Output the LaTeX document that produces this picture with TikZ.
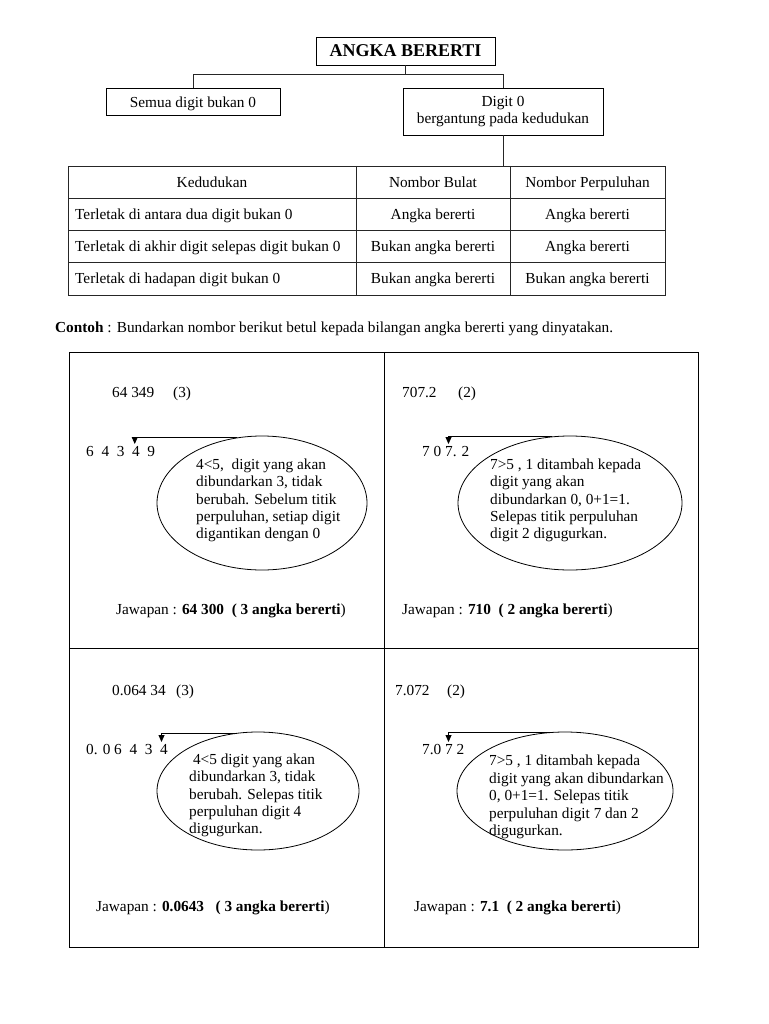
\documentclass[tikz,border=0pt]{standalone}
\usepackage{fontspec}
\setmainfont{Liberation Serif}
\usepackage{tikz}
\usetikzlibrary{shapes.geometric,arrows.meta}

\begin{document}
\begin{tikzpicture}[x=1pt,y=-1pt,font=\fontsize{15.3}{17.4}\selectfont]
\tikzstyle{every node}+=[inner sep=0pt]
\tikzstyle{teks}=[text height=15pt,text depth=3.5pt]
\tikzstyle{kotak}=[draw,line width=0.9pt]
\tikzstyle{bulat}=[draw,ellipse,line width=0.8pt]
\tikzstyle{garis}=[line width=0.8pt,black!85]
\tikzstyle{anak}=[-{Triangle[length=7pt,width=6pt]},line width=0.8pt]
\useasboundingbox (0,0) rectangle (768,1024);
% carta atas
\node [kotak,minimum width=179,minimum height=28,font=\fontsize{18}{20}\selectfont\bfseries] (tajuk) at (405.5,51) {ANGKA BERERTI};
\node [kotak,teks,minimum width=174,minimum height=27] (semua) at (193,101.5) {Semua digit bukan 0};
\node [kotak,minimum width=200,minimum height=47,align=center] (sifar) at (503,111.5) {Digit 0\\bergantung pada kedudukan};
\coordinate (jadtop) at (503,166);
\draw [garis] (tajuk.south) -- ++(0,9) -| (semua.north);
\draw [garis] (tajuk.south) -- ++(0,9) -| (sifar.north);
\draw [garis] (sifar.south) -- (jadtop);
% jadual
\draw [garis] (68,166) rectangle (665,295);
\foreach \y in {198,230,262}
  \draw [garis] (68,\y) -- (665,\y);
\draw [garis] (356,166) -- (356,295);
\draw [garis] (510,166) -- (510,295);
\node [teks] (h1) at (212,182) {Kedudukan};
\node [teks] (h2) at (433,182) {Nombor Bulat};
\node [teks] (h3) at (587.5,182) {Nombor Perpuluhan};
\node [teks,anchor=west] (r1) at (75,214) {Terletak di antara dua digit bukan 0};
\node [teks,anchor=west] (r2) at (75,246) {Terletak di akhir digit selepas digit bukan 0};
\node [teks,anchor=west] (r3) at (75,278) {Terletak di hadapan digit bukan 0};
\node [teks] (b1) at (433,214) {Angka bererti};
\node [teks] (b2) at (433,246) {Bukan angka bererti};
\node [teks] (b3) at (433,278) {Bukan angka bererti};
\node [teks] (p1) at (587.5,214) {Angka bererti};
\node [teks] (p2) at (587.5,246) {Angka bererti};
\node [teks] (p3) at (587.5,278) {Bukan angka bererti};
\node [teks,anchor=west] (contoh) at (55,327) {\textbf{Contoh} : Bundarkan nombor berikut betul kepada bilangan angka bererti yang dinyatakan.};
% petak contoh
\draw [garis,black] (69,352) rectangle (698,947);
\draw [garis,black] (384,352) -- (384,947);
\draw [garis,black] (69,648) -- (698,648);
% contoh 1
\node [teks,anchor=west] (s1) at (112,392) {64 349};
\node [teks,anchor=west] (a1) at (173,392) {(3)};
\node [teks,anchor=west] (d1) at (86,451) {6\ \ 4\ \ 3\ \ 4\ \ 9};
\coordinate (t1) at (134.75,444);
\node [bulat,minimum width=210,minimum height=134] (e1) at (262,503) {};
\node [anchor=west,align=left] (k1) at (196,500.5) {4<5,\ \ digit yang akan\\dibundarkan 3, tidak\\berubah. Sebelum titik\\perpuluhan, setiap digit\\digantikan dengan 0};
\draw [anak] (e1.111) -| (t1);
\node [teks,anchor=west] (j1) at (116,609) {Jawapan : \textbf{64 300\ \ ( 3 angka bererti})};
% contoh 2
\node [teks,anchor=west] (s2) at (402,392) {707.2};
\node [teks,anchor=west] (a2) at (458,392) {(2)};
\node [teks,anchor=west] (d2) at (422,451) {7 0 7. 2};
\coordinate (t2) at (448.5,444);
\node [bulat,minimum width=224,minimum height=134] (e2) at (570,503) {};
\node [anchor=west,align=left] (k2) at (490,500.5) {7>5 , 1 ditambah kepada\\digit yang akan\\dibundarkan 0, 0+1=1.\\Selepas titik perpuluhan\\digit 2 digugurkan.};
\draw [anak] (e2.105) -| (t2);
\node [teks,anchor=west] (j2) at (402,609) {Jawapan : \textbf{710\ \ ( 2 angka bererti})};
% contoh 3
\node [teks,anchor=west] (s3) at (112,690) {0.064 34};
\node [teks,anchor=west] (a3) at (176,690) {(3)};
\node [teks,anchor=west] (d3) at (86,749) {0. 0 6\ \ 4\ \ 3\ \ 4};
\coordinate (t3) at (161.5,742);
\node [bulat,minimum width=202,minimum height=118] (e3) at (258,791) {};
\node [anchor=west,align=left] (k3) at (189,795.5) {\ 4<5 digit yang akan\\dibundarkan 3, tidak\\berubah. Selepas titik\\perpuluhan digit 4\\digugurkan.};
\draw [anak] (e3.110) -| (t3);
\node [teks,anchor=west] (j3) at (96,906) {Jawapan : \textbf{0.0643\ \ \ ( 3 angka bererti})};
% contoh 4
\node [teks,anchor=west] (s4) at (395,690) {7.072};
\node [teks,anchor=west] (a4) at (447,690) {(2)};
\node [teks,anchor=west] (d4) at (422,749) {7.0 7 2};
\coordinate (t4) at (448.5,742);
\node [bulat,minimum width=216,minimum height=118] (e4) at (565,791) {};
\node [anchor=west,align=left] (k4) at (489,797) {7>5 , 1 ditambah kepada\\digit yang akan dibundarkan\\0, 0+1=1. Selepas titik\\perpuluhan digit 7 dan 2\\digugurkan.};
\draw [anak] (e4.103) -| (t4);
\node [teks,anchor=west] (j4) at (414,906) {Jawapan : \textbf{7.1\ \ ( 2 angka bererti})};
\end{tikzpicture}
\end{document}
